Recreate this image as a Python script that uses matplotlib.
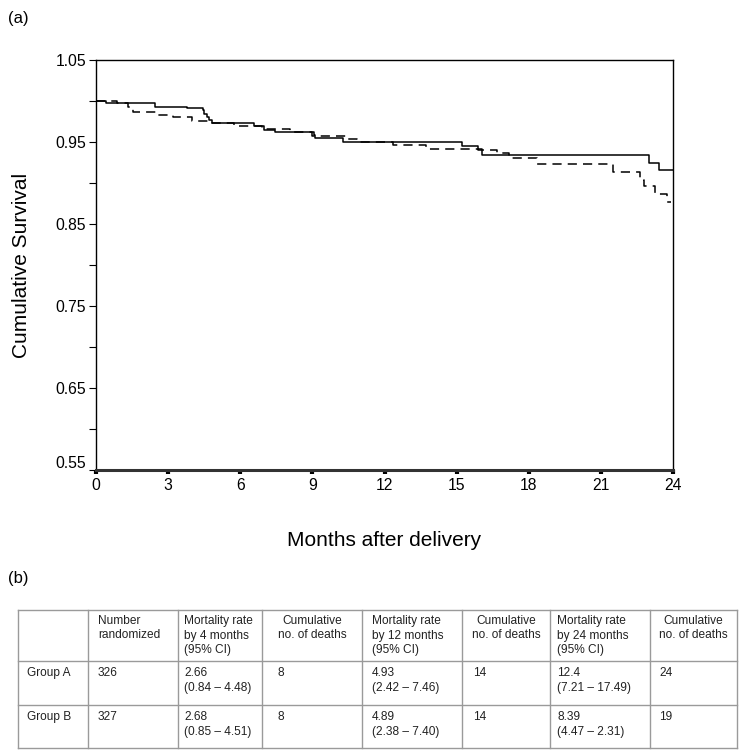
import matplotlib
matplotlib.use('Agg')
import matplotlib.pyplot as plt
from matplotlib.ticker import FixedLocator
import matplotlib.transforms as mtransforms

plt.rcParams['font.family'] = ['Liberation Sans', 'DejaVu Sans']

# Kaplan-Meier step data (months, cumulative survival)
months_a = [0, 0.4, 2.45, 3.8, 4.43, 4.5, 4.61, 4.72, 4.83, 6.58, 6.97, 7.46, 9.06, 9.1,
            10.28, 15.24, 15.89, 16.07, 23.01, 23.43, 24]
surv_a = [1.0, 0.997, 0.993, 0.9915, 0.9895, 0.984, 0.980, 0.977, 0.973, 0.969, 0.965, 0.962,
          0.958, 0.955, 0.950, 0.9455, 0.941, 0.934, 0.925, 0.916, 0.916]

months_b = [0, 0.86, 1.35, 1.53, 2.5, 3.22, 4.0, 4.8, 5.72, 6.9, 8.08, 9.0, 10.38, 10.86,
            12.35, 13.74, 15.9, 16.7, 17.18, 18.33, 21.49, 22.63, 22.8, 23.25, 23.75, 23.92]
surv_b = [1.0, 0.998, 0.993, 0.987, 0.983, 0.980, 0.976, 0.973, 0.969, 0.966, 0.962, 0.957,
          0.954, 0.950, 0.946, 0.942, 0.940, 0.936, 0.931, 0.923, 0.914, 0.904, 0.896, 0.887,
          0.877, 0.877]

x_ticks = [0, 3, 6, 9, 12, 15, 18, 21, 24]
y_ticks = [0.55, 0.65, 0.75, 0.85, 0.95, 1.05]

# table contents
header = [[''], ['Number', 'randomized'], ['Mortality rate', 'by 4 months', '(95% CI)'],
          ['Cumulative', 'no. of deaths'], ['Mortality rate', 'by 12 months', '(95% CI)'],
          ['Cumulative', 'no. of deaths'], ['Mortality rate', 'by 24 months', '(95% CI)'],
          ['Cumulative', 'no. of deaths']]
group_a = [['Group A'], ['326'], ['2.66', '(0.84 \u2013 4.48)'], ['8'], ['4.93', '(2.42 \u2013 7.46)'],
           ['14'], ['12.4', '(7.21 \u2013 17.49)'], ['24']]
group_b = [['Group B'], ['327'], ['2.68', '(0.85 \u2013 4.51)'], ['8'], ['4.89', '(2.38 \u2013 7.40)'],
           ['14'], ['8.39', '(4.47 \u2013 2.31)'], ['19']]

fig = plt.figure(figsize=(7.43, 7.54), dpi=100)
ax = fig.add_axes([96 / 743, 1 - 470 / 754, 577 / 743, 410 / 754])

ax.step(months_a, surv_a, where='post', color='black', lw=1.1)
ax.step(months_b, surv_b, where='post', color='black', lw=1.1, dashes=(6, 4))

ax.set_xlim(0, 24)
ax.set_ylim(0.55, 1.05)
ax.set_xticks(x_ticks)
ax.set_yticks(y_ticks)
ax.set_yticklabels([f'{v:.2f}' for v in y_ticks])
ax.yaxis.set_minor_locator(FixedLocator([0.6, 0.7, 0.8, 0.9, 1.0]))
ax.tick_params(axis='y', which='both', direction='out', length=5, width=0.8, labelsize=11.3,
               pad=2, colors='black')
ax.tick_params(axis='x', direction='out', length=3, width=3, labelsize=11.3, pad=3)
ax.spines['bottom'].set_linewidth(2.2)
ax.spines['bottom'].set_color('#333333')
for s in ['left', 'top', 'right']:
    ax.spines[s].set_linewidth(1.0)

# lift the bottom y label a little off the x axis
lbl = ax.get_yticklabels()[0]
lbl.set_transform(lbl.get_transform() + mtransforms.ScaledTranslation(0, 0.08, fig.dpi_scale_trans))

ax.set_ylabel('Cumulative Survival', fontsize=15, labelpad=18)
ax.set_xlabel('Months after delivery', fontsize=15, labelpad=27)

fig.text(8 / 743, 1 - 19 / 754, '(a)', fontsize=12, va='center')
fig.text(8 / 743, 1 - 579 / 754, '(b)', fontsize=12, va='center')

# table drawn on a pixel-space overlay
tx = fig.add_axes([0, 0, 1, 1])
tx.set_xlim(0, 743)
tx.set_ylim(754, 0)
tx.axis('off')

col_edges = [18, 88, 178, 262, 362, 462, 550, 650, 737]
row_edges = [610, 661, 705, 748]
pads = [9, 10, 6, 16, 10, 11, 7, 9]
line_color = '#9a9a9a'
for y in row_edges:
    tx.plot([col_edges[0], col_edges[-1]], [y, y], color=line_color, lw=1)
for x in col_edges:
    tx.plot([x, x], [row_edges[0], row_edges[-1]], color=line_color, lw=1)

txt_kw = dict(fontsize=8.6, color='#222222', va='center')
for i, lines in enumerate(header):
    for j, t in enumerate(lines):
        y = 621 + j * 14.5
        if t.startswith('Cumulative') or t.startswith('no. of'):
            tx.text((col_edges[i] + col_edges[i + 1]) / 2, y, t, ha='center', **txt_kw)
        else:
            tx.text(col_edges[i] + pads[i], y, t, ha='left', **txt_kw)

for top, row in [(661, group_a), (705, group_b)]:
    for i, lines in enumerate(row):
        for j, t in enumerate(lines):
            tx.text(col_edges[i] + pads[i], top + 12 + j * 14.5, t, ha='left', **txt_kw)

fig.savefig('out.png', dpi=100)
